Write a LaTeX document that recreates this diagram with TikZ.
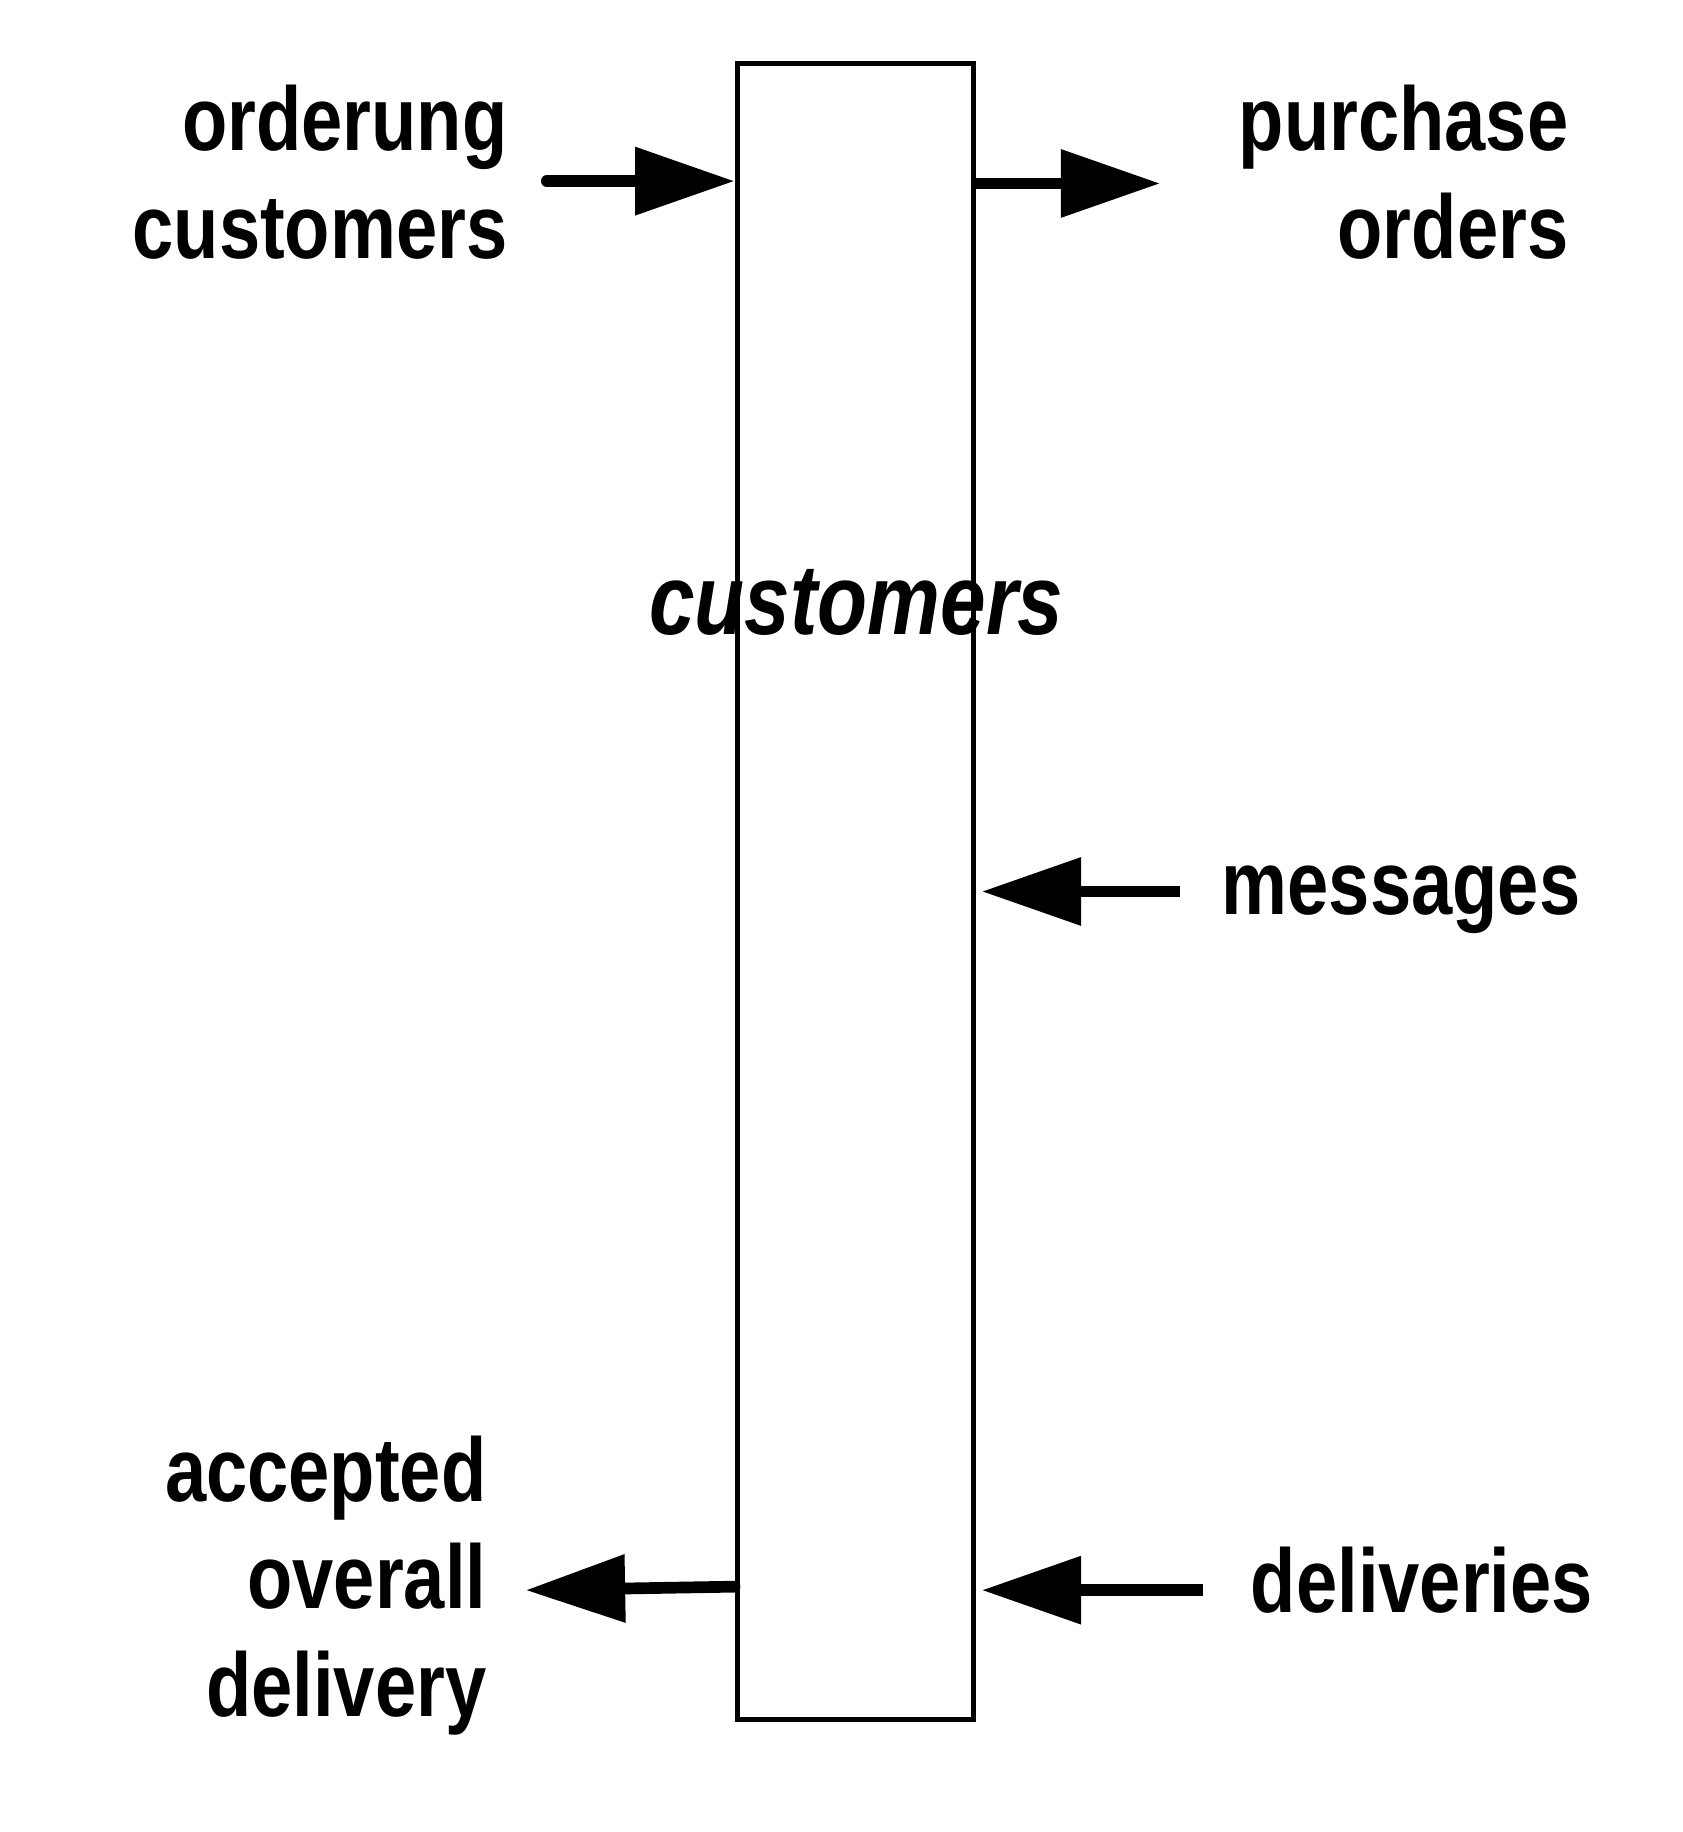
\documentclass[tikz,border=0pt]{standalone}
\usepackage{fontspec}
\setmainfont{Liberation Sans}[FakeStretch=0.82]
\usetikzlibrary{arrows.meta}

\tikzset{
  lbl/.style={font=\fontsize{22}{26.2}\selectfont\bfseries,inner sep=0pt,align=right},
  flow/.style={line width=0.1cm,-{Triangle[length=0.85cm,width=0.56cm]}},
}

\begin{document}
\begin{tikzpicture}[x=0.01cm,y=-0.01cm]
  \useasboundingbox (0,0) rectangle (1440,1568);
  %box
  \node[draw,line width=0.045cm,minimum width=2.02cm,minimum height=14.16cm,inner sep=0pt] (box) at (732,763) {};
  \node[lbl,font=\fontsize{24.3}{28}\selectfont\bfseries\itshape,anchor=base] (boxname) at (733,543) {customers};
  %labels
  \node[lbl,anchor=base east] (ordlbl) at (435,221) {orderung\\customers};
  \node[lbl,anchor=base east] (purlbl) at (1343,221) {purchase\\orders};
  \node[lbl,anchor=base west] (msglbl) at (1045,783) {messages};
  \node[lbl,anchor=base west] (dellbl) at (1070,1380) {deliveries};
  \node[lbl,anchor=base east] (acclbl) at (417,1469) {accepted\\overall\\delivery};
  %arrows
  \coordinate (ordS) at (468,155);
  \coordinate (purT) at (993,157);
  \coordinate (msgS) at (1010,763);
  \coordinate (delS) at (1030,1361);
  \coordinate (accS) at (box.west |- 0,1358);
  \coordinate (accT) at (450,1361);
  \draw[flow,line cap=round] (ordS) -- (box.west |- ordS);
  \draw[flow] (box.east |- purT) -- (purT);
  \draw[flow,shorten >=0.05cm] (msgS) -- (box.east |- msgS);
  \draw[flow,shorten >=0.05cm] (delS) -- (box.east |- delS);
  \draw[flow,line cap=round] (accS) -- (accT);
\end{tikzpicture}
\end{document}
